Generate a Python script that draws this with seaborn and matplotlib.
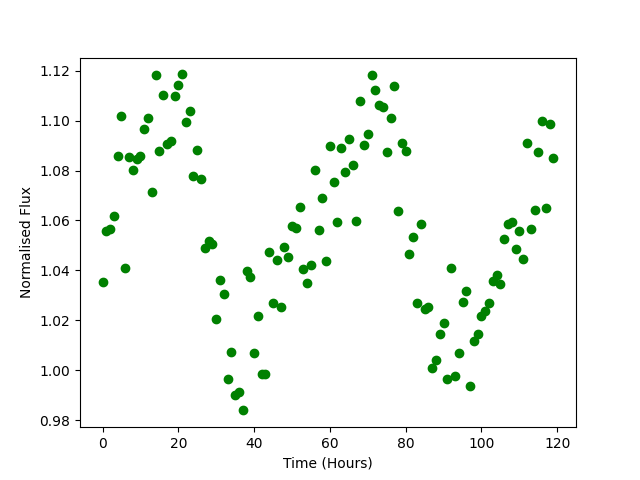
import matplotlib
matplotlib.use("Agg")
import matplotlib.pyplot as plt
import seaborn as sns
import pandas as pd

# time of each sample (hours)
hours = [
    0, 1, 2, 3, 4, 5, 6, 7, 8, 9, 10, 11, 12, 13, 14, 15, 16, 17, 18, 19,
    20, 21, 22, 23, 24, 25, 26, 27, 28, 29, 30, 31, 32, 33, 34, 35, 36, 37, 38, 39,
    40, 41, 42, 43, 44, 45, 46, 47, 48, 49, 50, 51, 52, 53, 54, 55, 56, 57, 58, 59,
    60, 61, 62, 63, 64, 65, 66, 67, 68, 69, 70, 71, 72, 73, 74, 75, 76, 77, 78, 79,
    80, 81, 82, 83, 84, 85, 86, 87, 88, 89, 90, 91, 92, 93, 94, 95, 96, 97, 98, 99,
    100, 101, 102, 103, 104, 105, 106, 107, 108, 109, 110, 111, 112, 113, 114, 115, 116, 117, 118, 119,
]

# normalised flux
flux = [
    1.0352, 1.0556, 1.0564, 1.0616, 1.0857, 1.1017, 1.0408, 1.0853, 1.0801, 1.0845,
    1.0857, 1.0965, 1.1009, 1.0712, 1.1181, 1.0877, 1.1101, 1.0905, 1.0917, 1.1097,
    1.1141, 1.1185, 1.0993, 1.1037, 1.0777, 1.0881, 1.0765, 1.0488, 1.0516, 1.0504,
    1.0204, 1.0360, 1.0304, 0.9963, 1.0071, 0.9899, 0.9911, 0.9839, 1.0396, 1.0372,
    1.0067, 1.0216, 0.9983, 0.9983, 1.0472, 1.0268, 1.0440, 1.0252, 1.0492, 1.0452,
    1.0576, 1.0568, 1.0652, 1.0404, 1.0348, 1.0420, 1.0801, 1.0560, 1.0688, 1.0436,
    1.0897, 1.0752, 1.0592, 1.0889, 1.0793, 1.0925, 1.0821, 1.0596, 1.1077, 1.0901,
    1.0945, 1.1181, 1.1121, 1.1061, 1.1053, 1.0873, 1.1009, 1.1137, 1.0636, 1.0909,
    1.0877, 1.0464, 1.0532, 1.0268, 1.0584, 1.0244, 1.0252, 1.0007, 1.0039, 1.0144,
    1.0188, 0.9963, 1.0408, 0.9975, 1.0067, 1.0272, 1.0316, 0.9935, 1.0119, 1.0144,
    1.0216, 1.0236, 1.0268, 1.0356, 1.0380, 1.0344, 1.0524, 1.0584, 1.0592, 1.0484,
    1.0556, 1.0444, 1.0909, 1.0564, 1.0640, 1.0873, 1.0997, 1.0648, 1.0985, 1.0849,
]

df = pd.DataFrame({"time": hours, "flux": flux})

fig, ax = plt.subplots(figsize=(6.4, 4.8), dpi=100)
sns.scatterplot(data=df, x="time", y="flux", color="green", s=36,
                edgecolor="green", linewidth=1, ax=ax)
ax.set_xlabel("Time (Hours)")
ax.set_ylabel("Normalised Flux")

fig.savefig("out.png", dpi=100)
plt.close(fig)
